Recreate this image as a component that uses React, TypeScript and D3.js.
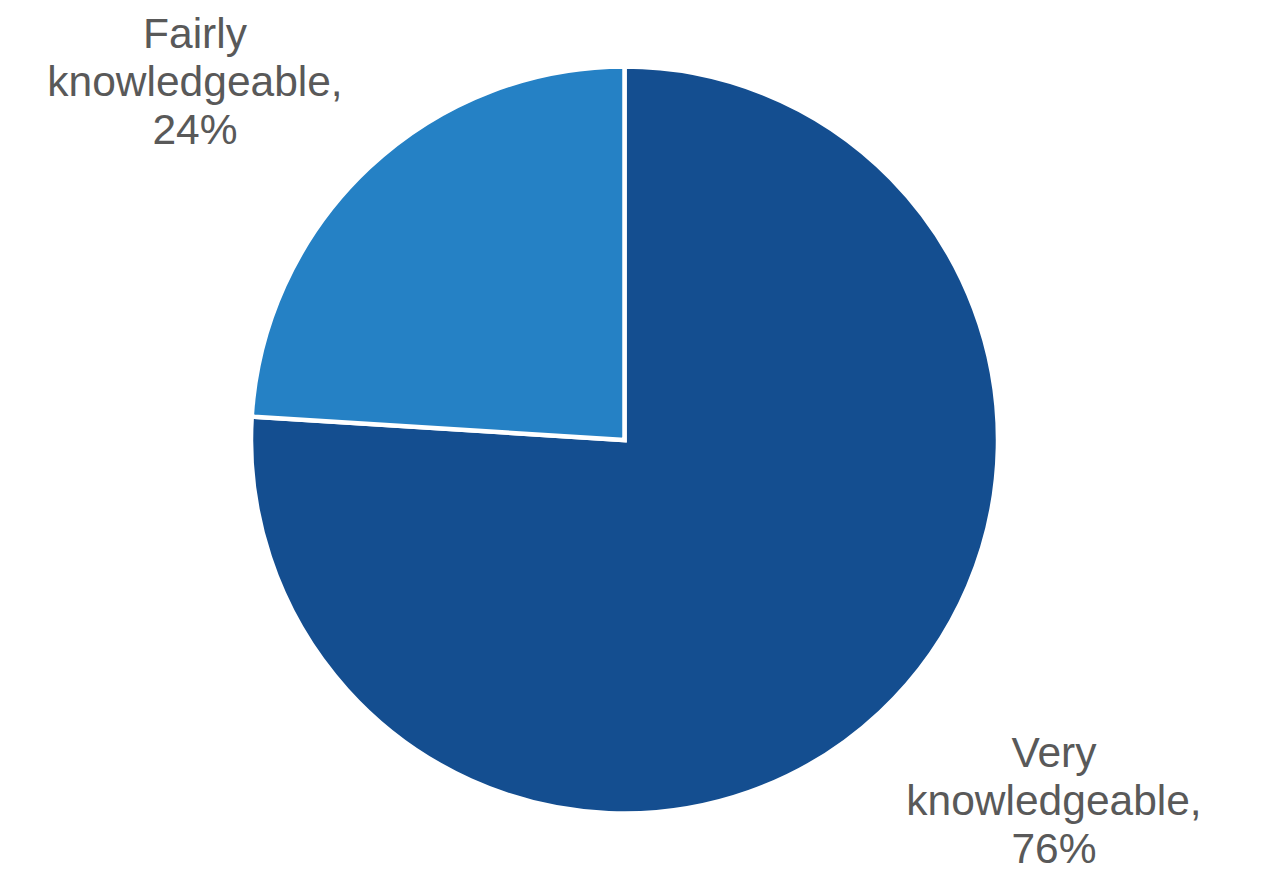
import React from "react";
import * as d3 from "d3";

const categories = ["Very knowledgeable", "Fairly knowledgeable"];
const values = [76, 24];
const colors = ["#144e90", "#2581c5"];

const W = 1262;
const H = 876;
const cx = 624.5;
const cy = 440;
const R = 373.5;

const labelPos: [number, number][] = [
  [1054, 767],
  [195, 48],
];

export default function App() {
  const pie = d3.pie<number>().sort(null).value((d) => d)(values);
  const arc = d3.arc<d3.PieArcDatum<number>>().innerRadius(0).outerRadius(R);
  return (
    <svg
      width={W}
      height={H}
      style={{ position: "absolute", left: 0, top: 0 }}
      fontFamily="'Liberation Sans', Arial, sans-serif"
    >
      <rect width={W} height={H} fill="#fff" />
      <g transform={`translate(${cx},${cy})`}>
        {pie.map((p, i) => (
          <path
            key={i}
            d={arc(p) || ""}
            fill={colors[i]}
            stroke="#fff"
            strokeWidth={4.5}
            strokeLinejoin="miter"
          />
        ))}
      </g>
      {categories.map((c, i) => {
        const [x, y] = labelPos[i];
        const first = c.split(" ")[0];
        const lines = [first, "knowledgeable,", `${values[i]}%`];
        return (
          <text key={c} x={x} y={y} textAnchor="middle" fontSize={42.5} fill="#595959">
            {lines.map((l, j) => (
              <tspan key={j} x={x} dy={j === 0 ? 0 : 48}>
                {l}
              </tspan>
            ))}
          </text>
        );
      })}
    </svg>
  );
}
